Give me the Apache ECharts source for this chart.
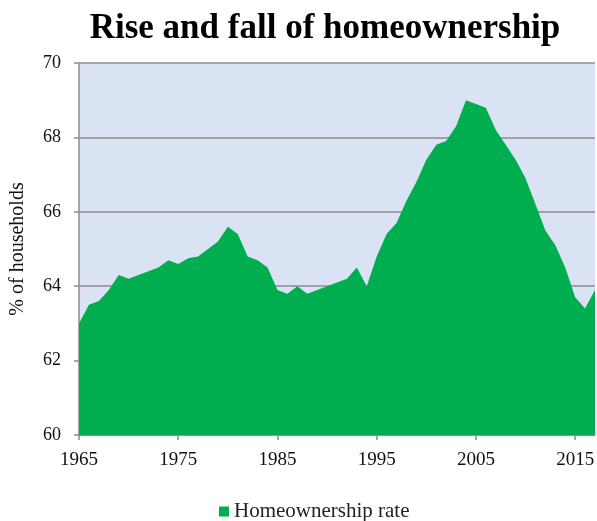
<!DOCTYPE html>
<html>
<head>
<meta charset="utf-8">
<script src="https://cdn.jsdelivr.net/npm/echarts@6/dist/echarts.min.js"></script>
<style>
  html, body { margin: 0; padding: 0; background: #ffffff; }
  #chart { width: 597px; height: 521px; }
</style>
</head>
<body>
<div id="chart"></div>
<script>
const years = [];
for (let y = 1965; y <= 2017; y++) years.push(String(y));

const homeownershipRate = [
  63.0, 63.5, 63.6, 63.9, 64.3, 64.2, 64.3, 64.4, 64.5, 64.7,
  64.6, 64.75, 64.8, 65.0, 65.2, 65.6, 65.4, 64.8, 64.7, 64.5,
  63.9, 63.8, 64.0, 63.8, 63.9, 64.0, 64.1, 64.2, 64.5, 64.0,
  64.8, 65.4, 65.7, 66.3, 66.8, 67.4, 67.8, 67.9, 68.3, 69.0,
  68.9, 68.8, 68.2, 67.8, 67.4, 66.9, 66.2, 65.5, 65.1, 64.5,
  63.7, 63.4, 63.9
];

const yTicks = { min: 60, max: 70, interval: 2 };
const serif = '"Liberation Serif", "DejaVu Serif", serif';

const chart = echarts.init(document.getElementById('chart'));
chart.setOption({
  animation: false,
  title: {
    text: 'Rise and fall of homeownership',
    left: 320,
    textAlign: 'center',
    top: 6,
    textStyle: { fontFamily: serif, fontWeight: 'bold', fontSize: 35, color: '#000' }
  },
  legend: {
    top: 496,
    left: 214,
    icon: 'rect',
    itemWidth: 10,
    itemHeight: 10,
    itemGap: 6,
    textStyle: { fontFamily: serif, fontSize: 21, color: '#222' },
    data: ['Homeownership rate']
  },
  grid: {
    left: 75,
    right: 2,
    top: 63,
    bottom: 86,
    show: true,
    backgroundColor: '#dae3f3',
    borderWidth: 0
  },
  xAxis: {
    type: 'category',
    data: years,
    boundaryGap: false,
    axisLine: { lineStyle: { color: '#8c8c8c', width: 1.5 } },
    axisTick: { interval: 9, length: 5, lineStyle: { color: '#8c8c8c', width: 1.5 } },
    axisLabel: {
      interval: 9,
      margin: 16,
      fontFamily: serif,
      fontSize: 19,
      color: '#111'
    },
    splitLine: { show: false }
  },
  yAxis: {
    type: 'value',
    min: yTicks.min,
    max: yTicks.max,
    interval: yTicks.interval,
    name: '% of households',
    nameLocation: 'middle',
    nameGap: 51,
    nameTextStyle: { fontFamily: serif, fontSize: 20, color: '#111' },
    axisLine: { show: true, lineStyle: { color: '#8c8c8c', width: 1.5 } },
    axisTick: { show: true, length: 5, lineStyle: { color: '#8c8c8c', width: 1.5 } },
    axisLabel: { margin: 18, fontFamily: serif, fontSize: 18, color: '#111' },
    splitLine: { lineStyle: { color: '#8c8c8c', width: 1.5 } }
  },
  series: [{
    name: 'Homeownership rate',
    type: 'line',
    data: homeownershipRate,
    symbol: 'none',
    color: '#00ae4f',
    lineStyle: { width: 0 },
    areaStyle: { color: '#00ae4f', opacity: 1, origin: 'start' }
  }]
});
</script>
</body>
</html>
